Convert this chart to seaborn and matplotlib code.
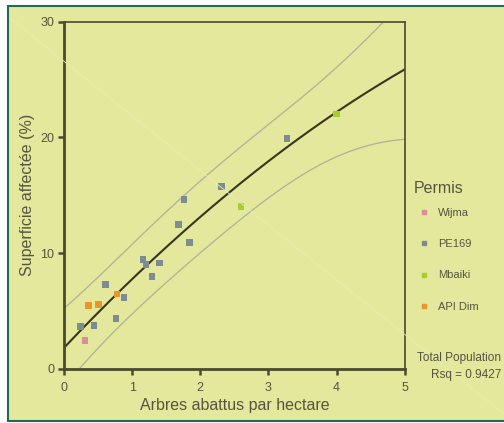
import numpy as np
import pandas as pd
import matplotlib.pyplot as plt
import seaborn as sns
from matplotlib.lines import Line2D

# values
permis_order = ["Wijma", "PE169", "Mbaiki", "API Dim"]
arbres = [0.31,
          0.24, 0.44, 0.61, 0.76, 0.88, 1.16, 1.20, 1.29, 1.40, 1.68, 1.84, 1.76, 2.31, 3.27,
          2.60, 4.00,
          0.36, 0.51, 0.78]
superficie = [2.45,
              3.66, 3.75, 7.26, 4.36, 6.17, 9.46, 9.02, 7.95, 9.14, 12.45, 10.92, 14.64, 15.73, 19.91,
              14.04, 22.0,
              5.45, 5.57, 6.46]
permis = (["Wijma"] + ["PE169"] * 14 + ["Mbaiki"] * 2 + ["API Dim"] * 3)
rsq_text = "Total Population\nRsq = 0.9427"

palette = {"Wijma": "#d88f9a", "PE169": "#7d8c90", "Mbaiki": "#a6cf2e", "API Dim": "#e8952c"}
bg = "#e3e89c"
ink = "#55553f"

df = pd.DataFrame({"x": arbres, "y": superficie, "permis": permis})

# quadratic fit + 95% prediction interval for individual values
n = len(df)
X = np.column_stack([np.ones(n), df.x, df.x ** 2])
beta, *_ = np.linalg.lstsq(X, df.y.values, rcond=None)
resid = df.y.values - X @ beta
s = np.sqrt((resid ** 2).sum() / (n - 3))
t = 2.110  # t(0.975, 17)
xs = np.linspace(0, 5, 300)
Xs = np.column_stack([np.ones_like(xs), xs, xs ** 2])
yfit = Xs @ beta
XtX_inv = np.linalg.inv(X.T @ X)
half = t * s * np.sqrt(1 + np.einsum("ij,jk,ik->i", Xs, XtX_inv, Xs))

sns.set_style("ticks")
plt.rcParams['font.family'] = ['Liberation Sans', 'DejaVu Sans']

fig = plt.figure(figsize=(5.04, 4.23), dpi=100, facecolor="white")
fig.patches.append(plt.Rectangle((8 / 504, 2 / 423), 1, 1 - 8 / 423, transform=fig.transFigure,
                                 facecolor=bg, edgecolor="#1f6b55", linewidth=1.5, zorder=-10))
ax = fig.add_axes([64 / 504, 1 - 368.7 / 423, (404.7 - 64) / 504, (368.7 - 21.7) / 423])
ax.set_facecolor("none")

# faint diagonal across the panel
fig.add_artist(Line2D([10 / 504, 1.0], [1 - 18 / 423, 1 - 414 / 423], transform=fig.transFigure,
                      color="#e8ecb4", linewidth=0.6, zorder=0.5))

ax.plot(xs, yfit + half, color="#afb096", linewidth=0.9)
ax.plot(xs, yfit - half, color="#afb096", linewidth=0.9)
ax.plot(xs, yfit, color="#36361e", linewidth=1.5)

sns.scatterplot(data=df, x="x", y="y", hue="permis", hue_order=permis_order, palette=palette,
                marker="s", s=22, edgecolor="none", ax=ax, legend=False, zorder=3)

ax.set_xlim(0, 5)
ax.set_ylim(0, 30)
ax.set_xticks([0, 1, 2, 3, 4, 5])
ax.set_yticks([0, 10, 20, 30])
ax.tick_params(direction="out", length=4, width=1.8, color="#4a4a2c", labelsize=9,
               labelcolor=ink, pad=3)
ax.tick_params(axis="x", pad=5.5)
for side in ["left", "bottom"]:
    ax.spines[side].set_linewidth(2)
    ax.spines[side].set_color("#4a4a2c")
for side in ["top", "right"]:
    ax.spines[side].set_visible(True)
    ax.spines[side].set_linewidth(1.2)
    ax.spines[side].set_color("#4a4a2c")

ax.set_xlabel("Arbres abattus par hectare", fontsize=11.5, color=ink, labelpad=3)
ax.set_ylabel("Superficie affectée (%)", fontsize=11.5, color=ink, labelpad=3.5)

fig.text(414 / 504, 1 - 188 / 423, "Permis", ha="left", va="center", fontsize=11.5, color=ink)
handles = [Line2D([], [], marker="s", linestyle="none", markersize=3.5, color=palette[p],
                  label=p) for p in permis_order]
leg = fig.legend(handles=handles, loc="upper left",
                 bbox_to_anchor=(410 / 504, 1 - 200 / 423), frameon=False,
                 fontsize=8, labelspacing=1.92, handletextpad=0.6,
                 handlelength=1.2, borderpad=0.2)
for txt in leg.get_texts():
    txt.set_color(ink)

fig.text(501 / 504, 1 - 352 / 423, rsq_text, ha="right", va="top", fontsize=8.5,
         color=ink, linespacing=1.5)

fig.savefig("out.png", dpi=100, facecolor="white")
